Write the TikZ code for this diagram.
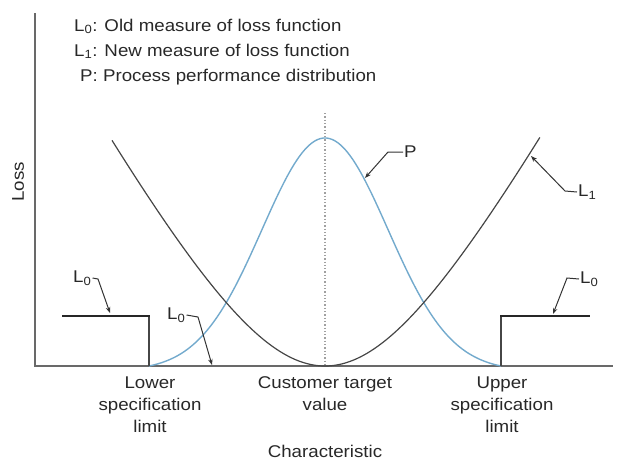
\documentclass[tikz,border=0pt]{standalone}
\usepackage{fontspec}
\setmainfont{Liberation Sans}[FakeStretch=1.1]
\usetikzlibrary{arrows.meta}
\definecolor{axisgray}{RGB}{105,105,105}
\definecolor{curvegray}{RGB}{70,70,70}
\definecolor{bellblue}{RGB}{115,170,205}
\definecolor{dotgray}{RGB}{160,160,160}
\definecolor{txtgray}{RGB}{40,40,40}
\tikzset{
  axisline/.style={draw=axisgray, line width=1.3pt},
  losscurve/.style={draw=curvegray, line width=1.2pt},
  bellcurve/.style={draw=bellblue, line width=1.4pt},
  oldloss/.style={draw=black!85, line width=2.6pt},
  specline/.style={draw=curvegray, line width=1.2pt},
  leader/.style={draw=black!80, line width=1pt, -{Stealth[length=6pt,width=4.5pt]}},
  lbl/.style={font=\fontsize{17}{22}\selectfont, text=txtgray, inner sep=1pt},
}
\begin{document}
\begin{tikzpicture}[x=1pt,y=-1pt]
\useasboundingbox (0,0) rectangle (617,461);
% axes
\coordinate (origin) at (35,366);
\coordinate (ytop) at (35,13);
\coordinate (xend) at (613,366);
\draw[axisline] (ytop) -- (origin) -- (xend);
% dotted target line
\coordinate (dtop) at (325,113);
\coordinate (dbot) at (325,366);
\draw[dotgray, line width=1.3pt, dotted] (dtop) -- (dbot);
% bell curve P
\draw[bellcurve] plot[domain=-2.794:2.794, samples=120, smooth] ({325+63*\x},{366-228*(exp(-(\x)^2/2)-0.0202)/0.9798});
% loss curve L1
\draw[losscurve] plot[domain=-1.704:1.72, samples=120, smooth] ({325+125*\x},{366-231.25*(sqrt(1+(\x)^2)-1)});
% old loss step L0
\coordinate (lslb) at (149,366);
\coordinate (lslt) at (149,316);
\coordinate (lstart) at (62,316);
\coordinate (uslb) at (501,366);
\coordinate (uslt) at (501,316);
\coordinate (uend) at (590,316);
\draw[specline] (lslb) -- (lslt);
\draw[specline] (uslb) -- (uslt);
\draw[oldloss] (lstart) -- ([xshift=0.6pt]lslt);
\draw[oldloss] ([xshift=-0.6pt]uslt) -- (uend);
% legend
\node[lbl, anchor=base west] (leg0) at (73,31) {L\textsubscript{0}: Old measure of loss function};
\node[lbl, anchor=base west] (leg1) at (73,56) {L\textsubscript{1}: New measure of loss function};
\node[lbl, anchor=base west] (legP) at (79,81) {P: Process performance distribution};
% axis labels
\node[lbl, rotate=90] (ylab) at (18,182) {Loss};
\node[lbl, anchor=base] (xlab) at (325,457) {Characteristic};
\node[lbl, anchor=base, align=center] (lsl) at (150,432) {Lower\\specification\\limit};
\node[lbl, anchor=base, align=center] (ctv) at (325,410) {Customer target\\value};
\node[lbl, anchor=base, align=center] (usl) at (502,432) {Upper\\specification\\limit};
% curve labels and leaders
\node[lbl, anchor=west] (l0a) at (72,278) {L\textsubscript{0}};
\coordinate (tip0a) at (110,313);
\draw[leader] (l0a.east) -- (98,279) -- (tip0a);
\node[lbl, anchor=west] (l0b) at (166,315) {L\textsubscript{0}};
\coordinate (tip0b) at (212,365);
\draw[leader] (l0b.east) -- (198,317) -- (tip0b);
\node[lbl, anchor=west] (l0c) at (579,279) {L\textsubscript{0}};
\coordinate (tip0c) at (553,314);
\draw[leader] (l0c.west) -- (567,278) -- (tip0c);
\node[lbl, anchor=west] (lP) at (403,152) {P};
\coordinate (tipP) at (365,178);
\draw[leader] (lP.west) -- (388,152) -- (tipP);
\node[lbl, anchor=west] (lL1) at (577,192) {L\textsubscript{1}};
\coordinate (tipL1) at (531,156);
\draw[leader] (lL1.west) -- (565,191) -- (tipL1);
\end{tikzpicture}
\end{document}
